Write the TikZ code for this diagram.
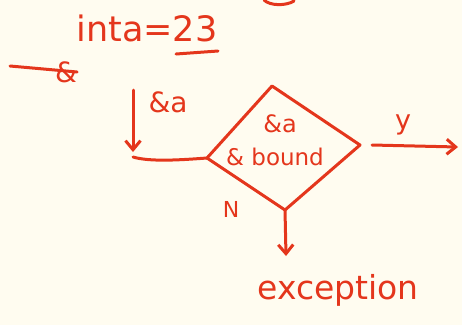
\documentclass[tikz,border=0pt]{standalone}
\usepackage{fontspec}
\setmainfont{DejaVu Sans}
\usetikzlibrary{arrows.meta}
\definecolor{ink}{HTML}{E4361C}
\definecolor{paper}{HTML}{FFFCF0}
\begin{document}
\begin{tikzpicture}[x=1pt,y=-1pt,
  pen/.style={draw=ink,line width=3pt,line cap=round,line join=round},
  arr/.style={pen,-{Straight Barb[length=9pt,width=15pt,line width=3pt]}},
  lbl/.style={text=ink,inner sep=0pt,anchor=center}]
  \fill[paper] (0,0) rectangle (462,325);
  \useasboundingbox (0,0) rectangle (462,325);

  % declaration at the top
  \node[lbl,font=\fontsize{35}{35}\selectfont] (decl) at (147,28) {inta=23};
  \coordinate (ulA) at (176,54);
  \coordinate (ulB) at (218,51);
  \draw[pen] (ulA) -- (ulB);
  % stray stroke at the top edge
  \coordinate (topA) at (264,0);
  \coordinate (topB) at (294,1);
  \draw[pen] (topA) .. controls (270,6) and (286,6) .. (topB);

  % crossed-out start mark
  \node[lbl,font=\fontsize{28}{28}\selectfont] (amp) at (66,72) {\&};
  \coordinate (startL) at (10,66);
  \draw[pen] (startL) -- (amp.east);

  % input arrow with its label
  \coordinate (inTop) at (133,90);
  \coordinate (inBot) at (133,152);
  \draw[arr] (inTop) -- (inBot);
  \node[lbl,font=\fontsize{28}{28}\selectfont] (inlbl) at (168,102) {\&a};

  % decision diamond
  \coordinate (dT) at (272,86);
  \coordinate (dL) at (207,158);
  \coordinate (dR) at (360,145);
  \coordinate (dB) at (285,210);
  \draw[pen] (dT) -- (dR) -- (dB) -- (dL) -- cycle;
  \node[lbl,font=\fontsize{24}{24}\selectfont] (cond1) at (280,124) {\&a};
  \node[lbl,font=\fontsize{23}{23}\selectfont] (cond2) at (275,157) {\& bound};

  % flow into the diamond
  \coordinate (joinL) at (133,157);
  \draw[pen] (joinL) .. controls (150,162) and (180,160) .. (dL);

  % yes branch
  \coordinate (yesS) at (372,145);
  \coordinate (yesE) at (458,147);
  \draw[arr] (yesS) -- (yesE);
  \node[lbl,font=\fontsize{27}{27}\selectfont] (ylbl) at (403,125) {y};

  % no branch
  \node[lbl,font=\fontsize{22}{22}\selectfont] (nlbl) at (231,209) {N};
  \coordinate (noE) at (286,256);
  \draw[arr] (dB) -- (noE);
  \node[lbl,font=\fontsize{33}{33}\selectfont] (exc) at (338,290) {exception};
\end{tikzpicture}
\end{document}
